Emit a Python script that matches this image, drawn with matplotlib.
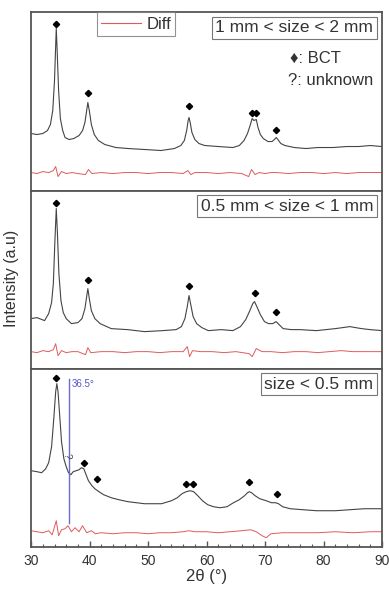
import numpy as np
import matplotlib.pyplot as plt
from matplotlib.lines import Line2D

plt.rcParams['font.family'] = ['Liberation Sans', 'DejaVu Sans']

# XRD patterns (2theta in degrees, intensity in a.u.)

# panel 1 : 1 mm < size < 2 mm
tt_1 = [30.0, 31.0, 32.0, 32.8, 33.3, 33.7, 34.0, 34.2, 34.3, 34.45, 34.7, 35.0,
        35.4, 35.8, 36.5, 37.3, 38.2, 38.8, 39.2, 39.5, 39.7, 39.95, 40.3, 40.8,
        41.5, 42.6, 44.5, 46.6, 49.5, 52.2, 54.5, 55.6, 56.2, 56.6, 56.85, 57.0,
        57.2, 57.5, 58.0, 58.7, 59.7, 62.0, 64.5, 65.6, 66.4, 67.0, 67.5, 67.8,
        68.1, 68.5, 68.8, 69.2, 69.7, 70.5, 71.2, 71.6, 71.9, 72.2, 72.7, 73.4,
        75.0, 77.0, 79.0, 81.6, 84.0, 86.0, 88.0, 90.0]
int_1 = [57, 56, 57, 60, 66, 80, 110, 145, 162, 140, 100, 72,
         60, 53, 51, 52, 55, 60, 68, 80, 88, 80, 66, 56,
         50, 46, 43, 42, 41, 40, 42, 45, 50, 60, 70, 73,
         68, 58, 51, 47, 45, 44, 43, 45, 50, 57, 66, 72,
         70, 71, 63, 56, 52, 49, 49, 51, 53, 51, 47, 45,
         43, 42, 43, 43, 44, 44, 45, 44]
diff_tt_1 = [30, 31, 32, 33, 33.8, 34.2, 34.6, 35.2, 36, 37, 38, 39.3, 39.8, 40.4,
             42, 44, 46, 48, 50, 52, 54, 56, 56.8, 57.3, 58, 60, 62, 64, 66, 67.2,
             67.7, 68.3, 69, 70, 71, 72, 74, 76, 78, 80, 82, 84, 86, 88, 90]
diff_1 = [18, 17, 19, 18, 20, 24, 14, 19, 17, 18, 17, 16, 21, 17,
          18, 17, 18, 18, 17, 18, 18, 17, 20, 16, 18, 18, 17, 18, 17, 14,
          21, 16, 18, 17, 18, 18, 17, 18, 18, 17, 18, 17, 18, 18, 18]
bct_tt_1 = [34.3, 39.7, 57.0, 67.7, 68.5, 71.9]
bct_int_1 = [166, 97, 85, 78, 78, 61]

# panel 2 : 0.5 mm < size < 1 mm
tt_2 = [30.0, 31.0, 32.3, 33.0, 33.5, 33.8, 34.05, 34.3, 34.5, 34.75, 35.1, 35.5,
        36.0, 36.9, 38.0, 38.7, 39.2, 39.5, 39.7, 39.95, 40.3, 40.9, 41.8, 43.7,
        46.5, 49.4, 52.5, 54.8, 55.7, 56.3, 56.7, 57.0, 57.3, 57.7, 58.3, 59.2,
        60.3, 62.5, 64.5, 65.8, 66.7, 67.4, 67.9, 68.2, 68.6, 69.2, 69.9, 70.6,
        71.3, 71.9, 72.4, 73.1, 74.5, 76.0, 78.8, 82.0, 84.5, 86.5, 88.0, 90.0]
int_2 = [50, 51, 48, 55, 66, 85, 125, 160, 135, 95, 68, 56,
         50, 45, 46, 50, 60, 72, 80, 70, 58, 50, 45, 40,
         39, 37, 38, 39, 42, 50, 62, 73, 64, 52, 45, 41,
         38, 39, 38, 42, 49, 58, 65, 67, 62, 54, 47, 45,
         45, 47, 44, 40, 39, 39, 38, 40, 42, 40, 39, 38]
diff_tt_2 = [30, 31, 32, 33, 33.8, 34.2, 34.6, 35.2, 36, 37, 38, 39.3, 39.7, 40.2,
             42, 44, 46, 48, 50, 52, 54, 56, 56.7, 57.1, 57.6, 59, 61, 63, 65, 67.3,
             67.8, 68.5, 69.5, 71, 73, 75, 77, 79, 81, 83, 85, 87, 90]
diff_2 = [17, 16, 18, 17, 19, 25, 13, 18, 16, 17, 17, 14, 21, 16,
          17, 17, 16, 17, 17, 16, 17, 17, 22, 12, 18, 17, 17, 16, 17, 15,
          12, 20, 17, 17, 16, 17, 17, 16, 17, 18, 17, 17, 17]
bct_tt_2 = [34.3, 39.7, 57.0, 68.2, 71.9]
bct_int_2 = [166, 89, 83, 76, 57]

# panel 3 : size < 0.5 mm
tt_3 = [30.0, 31.0, 31.8, 32.5, 33.0, 33.5, 33.9, 34.2, 34.4, 34.6, 34.9, 35.2,
        35.6, 36.0, 36.4, 36.8, 37.2, 37.7, 38.2, 38.6, 39.0, 39.4, 39.8, 40.4,
        40.9, 41.6, 42.4, 43.7, 45.0, 46.6, 49.4, 52.3, 54.0, 55.0, 55.8, 56.5,
        57.2, 57.8, 58.5, 59.3, 60.2, 61.2, 62.3, 63.5, 64.6, 65.6, 66.5, 67.0,
        67.3, 67.7, 68.3, 69.1, 70.2, 71.1, 71.8, 72.3, 73.0, 74.3, 76.5, 78.8,
        82.0, 84.5, 87.0, 90.0]
int_3 = [76, 75, 74, 78, 84, 100, 130, 155, 163, 155, 130, 105,
         88, 80, 74, 72, 75, 76, 77, 79, 78, 72, 66, 61,
         58, 55, 52, 49, 47, 45, 43, 43, 46, 49, 53, 55,
         56, 55, 51, 46, 42, 40, 39, 40, 44, 47, 51, 54,
         55, 54, 51, 48, 46, 44, 44, 43, 40, 38, 37, 36,
         36, 37, 38, 38]
diff_tt_3 = [30, 31, 32, 33, 33.6, 34.0, 34.3, 34.7, 35.2, 35.8, 36.3, 36.9, 37.5,
             38.2, 38.8, 39.5, 40.3, 41, 42, 44, 46, 48, 50, 52, 54, 56, 57, 58,
             60, 62, 64, 66, 67.5, 68.5, 69.5, 70.2, 71, 73, 76, 79, 82, 85, 88, 90]
diff_3 = [16, 15, 14, 16, 12, 20, 26, 11, 17, 18, 21, 15, 19,
          15, 21, 14, 16, 13, 14, 13, 14, 14, 13, 14, 14, 15, 16, 15,
          15, 14, 15, 16, 17, 15, 11, 9, 13, 14, 14, 14, 15, 14, 15, 15]
bct_tt_3 = [34.3, 39.1, 41.2, 56.4, 57.7, 67.3, 72.0]
bct_int_3 = [169, 84, 68, 63, 63, 65, 53]
unknown_tt = [36.0]
unknown_int = [91]
line_pos = 36.5

size_labels = ["1 mm < size < 2 mm", "0.5 mm < size < 1 mm", "size < 0.5 mm"]

panels = [
    (tt_1, int_1, diff_tt_1, diff_1, bct_tt_1, bct_int_1),
    (tt_2, int_2, diff_tt_2, diff_2, bct_tt_2, bct_int_2),
    (tt_3, int_3, diff_tt_3, diff_3, bct_tt_3, bct_int_3),
]

fig, axes = plt.subplots(3, 1, figsize=(3.89, 5.93), dpi=100, sharex=True)
fig.subplots_adjust(left=0.08, right=0.982, top=0.979, bottom=0.078, hspace=0)

text_col = '#333333'
for ax, (tt, inten, dtt, dint, btt, bint), lab in zip(axes, panels, size_labels):
    ax.plot(tt, inten, color='#444444', lw=0.8)
    ax.plot(dtt, dint, color='#e05a5a', lw=0.7)
    ax.plot(btt, bint, 'D', color='black', ms=3.2, ls='none')
    ax.set_xlim(30, 90)
    ax.set_ylim(0, 178)
    ax.set_yticks([])
    for s in ax.spines.values():
        s.set_color('#555555')
        s.set_linewidth(1.3)
    ax.tick_params(axis='x', length=0)
    ax.text(0.975, 0.955, lab, transform=ax.transAxes, ha='right', va='top',
            fontsize=12.5, color=text_col,
            bbox=dict(boxstyle='square,pad=0.2', fc='white', ec='#777777', lw=0.8))

# legend and phase key in top panel
ax1 = axes[0]
h = [Line2D([], [], color='#e05a5a', lw=0.8)]
leg = ax1.legend(h, ['Diff'], loc='upper left', bbox_to_anchor=(0.188, 1.0),
                 fontsize=12, frameon=True, fancybox=False, borderaxespad=0,
                 handlelength=2.4, borderpad=0.25, handletextpad=0.3)
leg.get_frame().set_edgecolor('#777777')
leg.get_frame().set_linewidth(0.8)
for t in leg.get_texts():
    t.set_color(text_col)
ax1.text(74.2, 132, '\u2666: BCT', fontsize=12, color=text_col, va='center')
ax1.text(74.0, 110, '?: unknown', fontsize=12, color=text_col, va='center')

# bottom panel extras
ax3 = axes[2]
ax3.plot([line_pos, line_pos], [24, 168], color='#6b6bd6', lw=1.0)
ax3.text(line_pos + 0.5, 163, '36.5\u00b0', color='#5555cc', fontsize=7, va='center')
for x, y in zip(unknown_tt, unknown_int):
    ax3.text(x, y, '?', rotation=-90, fontsize=7, color='#444444', ha='center', va='center')
ax3.set_xticks([30, 40, 50, 60, 70, 80, 90])
ax3.set_xticks(np.arange(30, 91, 2), minor=True)
ax3.tick_params(axis='x', which='major', direction='in', length=4, width=1,
                color='#555555', labelsize=10, labelcolor=text_col, pad=5)
ax3.tick_params(axis='x', which='minor', direction='in', length=2, width=0.8,
                color='#555555')
ax3.set_xlabel('2\u03b8 (\u00b0)', fontsize=12, color=text_col, labelpad=1)

fig.text(0.03, 0.53, 'Intensity (a.u)', rotation=90, fontsize=11.5,
         color=text_col, ha='center', va='center')

fig.savefig('out.png', dpi=100)
